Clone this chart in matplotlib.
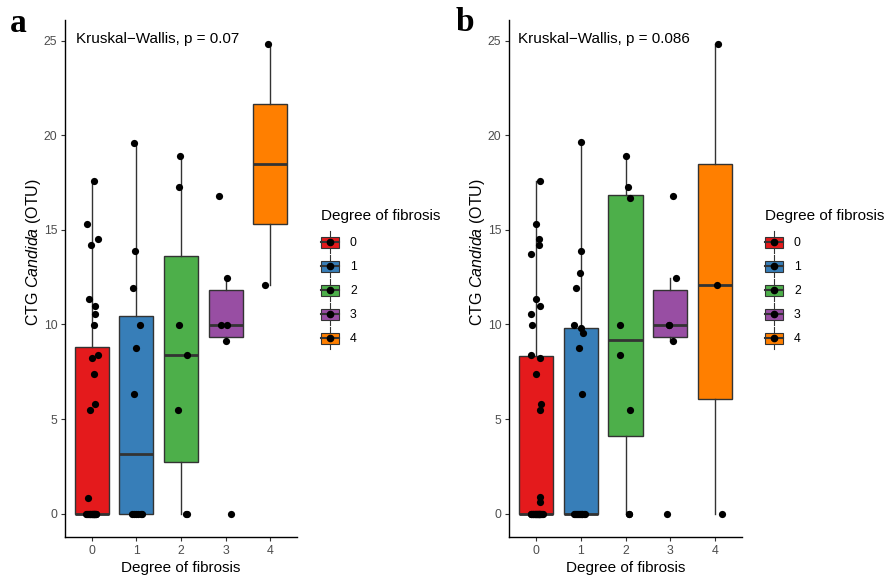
import numpy as np
import matplotlib
matplotlib.use("Agg")
import matplotlib.pyplot as plt
from matplotlib.patches import Patch, Rectangle
from matplotlib.lines import Line2D
from matplotlib.legend_handler import HandlerBase

plt.rcParams['font.family'] = ['Liberation Sans', 'DejaVu Sans']
plt.rcParams['mathtext.fontset'] = 'custom'
plt.rcParams['mathtext.rm'] = 'Liberation Sans'
plt.rcParams['mathtext.it'] = 'Liberation Sans:italic'

GROUPS = ['0', '1', '2', '3', '4']
COLORS = ['#E41A1C', '#377EB8', '#4DAF4A', '#984EA3', '#FF7F00']
EDGE = '#333333'

# panel a: OTU counts per fibrosis degree
A_VALUES = [
    [17.6, 15.3, 14.5, 14.2, 11.35, 11.0, 10.55, 9.95, 8.4, 8.2, 7.4, 5.8, 5.5, 0.8] + [0.0] * 18,
    [19.6, 13.9, 11.95, 9.95, 8.75, 6.3] + [0.0] * 6,
    [18.9, 17.25, 9.95, 8.4, 5.5, 0.0, 0.0],
    [16.8, 12.45, 9.95, 9.95, 9.15, 0.0],
    [24.85, 12.1],
]
A_JITTER = [
    [0.05, -0.11, 0.13, -0.01, -0.07, 0.07, 0.08, 0.06, 0.13, 0.01, 0.05, 0.07, -0.03, -0.09,
     -0.12, -0.10, -0.08, -0.06, -0.05, -0.03, -0.02, 0.0, 0.01, 0.02, 0.03, 0.04, 0.05, 0.06,
     0.07, 0.08, 0.09, 0.10],
    [-0.06, -0.02, -0.08, 0.08, 0.0, -0.05, -0.09, -0.05, 0.0, 0.03, 0.10, 0.13],
    [-0.02, -0.05, -0.04, 0.13, -0.07, 0.13, 0.12],
    [-0.15, 0.04, -0.10, 0.04, 0.01, 0.13],
    [-0.04, -0.11],
]
A_PVALUE = 'Kruskal\u2212Wallis, p = 0.07'

# panel b
B_VALUES = [
    [17.6, 15.3, 14.5, 14.2, 13.75, 11.35, 11.0, 10.55, 9.95, 8.4, 8.2, 7.4, 5.8, 5.5, 0.85, 0.6]
    + [0.0] * 22,
    [19.65, 13.9, 12.7, 11.95, 9.95, 9.8, 9.55, 8.75, 6.3] + [0.0] * 12,
    [18.9, 17.25, 16.7, 9.95, 8.4, 5.45, 0.0, 0.0],
    [16.8, 12.45, 9.95, 9.95, 9.15, 0.0],
    [24.85, 12.1, 0.0],
]
B_JITTER = [
    [0.10, 0.0, 0.08, 0.06, -0.12, 0.0, 0.09, -0.11, -0.08, -0.11, 0.10, 0.0, 0.11, 0.09, 0.10, 0.09,
     -0.12, -0.10, -0.09, -0.07, -0.06, -0.04, -0.03, -0.02, 0.0, 0.01, 0.02, 0.03, 0.04, 0.05,
     0.06, 0.07, 0.08, 0.09, 0.10, 0.11, 0.13, 0.15],
    [0.0, 0.0, -0.01, -0.11, -0.16, 0.01, 0.05, -0.03, 0.03,
     -0.14, -0.12, -0.10, -0.08, -0.06, -0.04, -0.02, 0.0, 0.02, 0.04, 0.07, 0.10],
    [0.0, 0.06, 0.10, -0.12, -0.13, 0.11, 0.08, 0.07],
    [0.05, 0.12, -0.04, -0.03, 0.05, -0.07],
    [0.06, 0.04, 0.15],
]
B_PVALUE = 'Kruskal\u2212Wallis, p = 0.086'


class BoxKey(HandlerBase):
    # little boxplot glyph for the legend keys
    def create_artists(self, legend, orig_handle, xdescent, ydescent, width, height, fontsize, trans):
        x0, y0 = -xdescent, -ydescent
        cx, cy = x0 + width / 2, y0 + height / 2
        bh = height * 0.52
        whisk = Line2D([cx, cx], [y0, y0 + height], color=EDGE, lw=0.8)
        box = Rectangle((x0, cy - bh / 2), width, bh, facecolor=orig_handle.get_facecolor(),
                        edgecolor=EDGE, lw=0.8)
        med = Line2D([x0, x0 + width], [cy, cy], color=EDGE, lw=1.5)
        dot = Line2D([cx], [cy], marker='o', color='black', ms=4.5, ls='')
        arts = [whisk, box, med, dot]
        for a in arts:
            a.set_transform(trans)
        return arts


def draw_panel(ax, values, jitter, ptext, text_x):
    pos = np.arange(len(values))
    bp = ax.boxplot(values, positions=pos, widths=0.76, patch_artist=True, showfliers=False,
                    showcaps=False, whis=1.5,
                    boxprops=dict(edgecolor=EDGE, linewidth=1.0),
                    whiskerprops=dict(color=EDGE, linewidth=1.0),
                    medianprops=dict(color=EDGE, linewidth=2.0))
    for patch, c in zip(bp['boxes'], COLORS):
        patch.set_facecolor(c)
    for i, (v, dx) in enumerate(zip(values, jitter)):
        ax.scatter(i + np.array(dx), v, s=27, color='black', zorder=3, linewidths=0)

    ax.set_xlim(-0.6, 4.6)
    ax.set_ylim(-1.24, 26.1)
    ax.set_xticks(pos)
    ax.set_xticklabels(GROUPS)
    ax.set_yticks([0, 5, 10, 15, 20, 25])
    for s in ['top', 'right']:
        ax.spines[s].set_visible(False)
    for s in ['left', 'bottom']:
        ax.spines[s].set_linewidth(1.0)
        ax.spines[s].set_color('black')
    ax.tick_params(length=3, width=0.8, color='#333333', labelcolor='#4D4D4D', labelsize=8.8, pad=2.5)
    ax.set_xlabel('Degree of fibrosis', fontsize=11, labelpad=3)
    ax.set_ylabel('CTG $\\mathit{Candida}$ (OTU)', fontsize=11.5)
    ax.yaxis.set_label_coords(-0.095, 0.551)
    ax.text(text_x, 25.1, ptext, fontsize=11, ha='left', va='center')


fig = plt.figure(figsize=(8.86, 5.79), dpi=100)
ax_a = fig.add_axes([65 / 886, 42 / 579, 232 / 886, 517 / 579])
ax_b = fig.add_axes([509 / 886, 42 / 579, 233 / 886, 517 / 579])

draw_panel(ax_a, A_VALUES, A_JITTER, A_PVALUE, -0.35)
draw_panel(ax_b, B_VALUES, B_JITTER, B_PVALUE, -0.40)

for lx in (321, 765):
    leg = fig.legend(handles=[Patch(facecolor=c) for c in COLORS], labels=GROUPS,
                     handler_map={Patch: BoxKey()}, loc='upper left',
                     bbox_to_anchor=(lx / 886, 1 - 209 / 579), frameon=False,
                     title='Degree of fibrosis', title_fontsize=11, fontsize=8.8,
                     handlelength=1.47, handleheight=2.38, labelspacing=0.17, handletextpad=0.9,
                     borderpad=0, borderaxespad=0, alignment='left')
    leg._legend_box.sep = 6

fig.text(10 / 886, 1 - 32 / 579, 'a', fontsize=24, fontweight='bold', family='Liberation Serif',
         va='baseline')
fig.text(456 / 886, 1 - 31 / 579, 'b', fontsize=24, fontweight='bold', family='Liberation Serif',
         va='baseline')

fig.savefig('out.png', dpi=100)
